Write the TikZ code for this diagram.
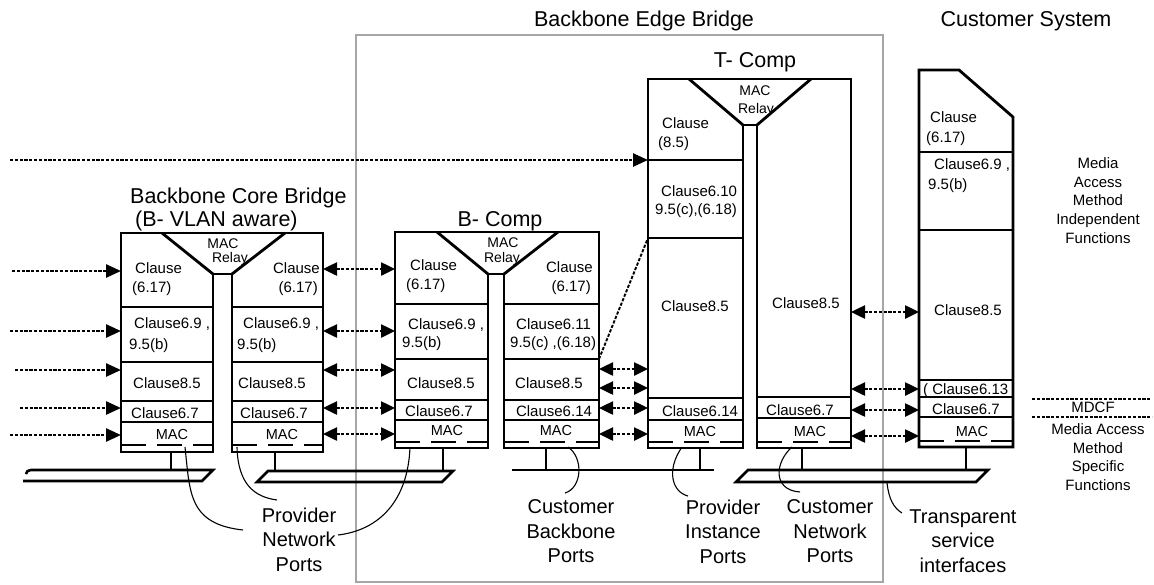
\documentclass[tikz,border=0pt]{standalone}
\usepackage{fontspec}
\setmainfont{Liberation Sans}
\usetikzlibrary{arrows.meta}
\begin{document}
\begin{tikzpicture}[x=1pt,y=-1pt,
  box/.style={line width=2.8pt, line join=miter},
  dashline/.style={line width=2.8pt, dash pattern=on 25pt off 11pt},
  dots/.style={line width=2.5pt, dash pattern=on 3.2pt off 1.6pt},
  arr/.style={dots, -{Triangle[length=15pt,width=13pt]}},
  darr/.style={dots, {Triangle[length=14pt,width=13pt]}-{Triangle[length=14pt,width=13pt]}},
  cl/.style={inner sep=0pt, font=\fontsize{15}{16}\selectfont},
  mac/.style={inner sep=0pt, font=\fontsize{14.5}{16}\selectfont},
  rel/.style={inner sep=0pt, font=\fontsize{14}{14}\selectfont},
  ttl/.style={inner sep=0pt, font=\fontsize{21.5}{24}\selectfont},
  lbl/.style={inner sep=0pt, align=center, font=\fontsize{20}{24.5}\selectfont},
  side/.style={inner sep=0pt, align=center, font=\fontsize{15}{18.7}\selectfont},
  callout/.style={line width=1.1pt},
  bus/.style={line width=2.6pt, line join=miter},
  greybox/.style={draw=black!35, line width=1.4pt}
]
\useasboundingbox (0,0) rectangle (1154,584);

% Backbone Edge Bridge frame
\draw[greybox] (356,35) rectangle (883,582);

% titles
\node[ttl, anchor=base] (beb) at (644,26) {Backbone Edge Bridge};
\node[ttl, anchor=base] (cs) at (1026,26) {Customer System};
\node[ttl, anchor=base] (tc) at (755,67) {T- Comp};
\node[ttl, anchor=base] (bc) at (500,226) {B- Comp};
\node[ttl, anchor=base west] (bcb) at (130,203) {Backbone Core Bridge};
\node[ttl, anchor=base west] (bva) at (135,226) {(B- VLAN aware)};

% ---------- Backbone core bridge ----------
\draw[box] (213,452) -- (121,452) -- (121,233) -- (323,233) -- (323,452) -- (232,452) -- (232,274) -- (213,274) -- cycle;
\draw[box] (162,233) -- (213,274);
\draw[box] (285,233) -- (232,274);
\foreach \yy in {307,362,401,422} {\draw[box] (121,\yy) -- (213,\yy); \draw[box] (232,\yy) -- (323,\yy);}
\draw[dashline] (121,445) -- (213,445);
\draw[dashline] (232,445) -- (323,445);
\node[rel, anchor=base] (cr1) at (223,248) {MAC};
\node[rel, anchor=base] (cr2) at (230,262) {Relay};
\node[cl, anchor=base west] (ca1) at (135,273.5) {Clause};
\node[cl, anchor=base west] (ca2) at (132,292.5) {(6.17)};
\node[cl, anchor=base west] (ca3) at (134,328.5) {Clause6.9 ,};
\node[cl, anchor=base west] (ca4) at (129,349.5) {9.5(b)};
\node[cl, anchor=base] (ca5) at (167,388.5) {Clause8.5};
\node[cl, anchor=base] (ca6) at (165,418.5) {Clause6.7};
\node[mac, anchor=base] (ca7) at (172,439) {MAC};
\node[cl, anchor=base east] (cb1) at (320,273.5) {Clause};
\node[cl, anchor=base east] (cb2) at (318,292.5) {(6.17)};
\node[cl, anchor=base west] (cb3) at (243,328.5) {Clause6.9 ,};
\node[cl, anchor=base west] (cb4) at (237,349.5) {9.5(b)};
\node[cl, anchor=base] (cb5) at (272,388.5) {Clause8.5};
\node[cl, anchor=base] (cb6) at (274,418.5) {Clause6.7};
\node[mac, anchor=base] (cb7) at (282,439) {MAC};

% ---------- B-Comp ----------
\draw[box] (488,448) -- (395,448) -- (395,232) -- (599,232) -- (599,448) -- (504,448) -- (504,274) -- (488,274) -- cycle;
\draw[box] (437,232) -- (488,274);
\draw[box] (558,232) -- (504,274);
\foreach \yy in {304,359,400,420} {\draw[box] (395,\yy) -- (488,\yy); \draw[box] (504,\yy) -- (599,\yy);}
\draw[dashline] (395,442) -- (488,442);
\draw[dashline] (504,442) -- (599,442);
\node[rel, anchor=base] (br1) at (503,247) {MAC};
\node[rel, anchor=base] (br2) at (502,262) {Relay};
\node[cl, anchor=base west] (ba1) at (410,270.5) {Clause};
\node[cl, anchor=base west] (ba2) at (406,289.5) {(6.17)};
\node[cl, anchor=base west] (ba3) at (408,329.5) {Clause6.9 ,};
\node[cl, anchor=base west] (ba4) at (402,347.5) {9.5(b)};
\node[cl, anchor=base] (ba5) at (441,388.5) {Clause8.5};
\node[cl, anchor=base] (ba6) at (439,416.5) {Clause6.7};
\node[mac, anchor=base] (ba7) at (447,435) {MAC};
\node[cl, anchor=base east] (bb1) at (593,272.5) {Clause};
\node[cl, anchor=base east] (bb2) at (591,291.5) {(6.17)};
\node[cl, anchor=base west] (bb3) at (516,329.5) {Clause6.11};
\node[cl, anchor=base west] (bb4) at (510,347.5) {9.5(c) ,(6.18)};
\node[cl, anchor=base] (bb5) at (549,388.5) {Clause8.5};
\node[cl, anchor=base] (bb6) at (554,416.5) {Clause6.14};
\node[mac, anchor=base] (bb7) at (556,435) {MAC};

% ---------- T-Comp ----------
\draw[box] (743,448) -- (648,448) -- (648,79) -- (851,79) -- (851,448) -- (757,448) -- (757,125) -- (743,125) -- cycle;
\draw[box] (689,79) -- (743,125);
\draw[box] (811,79) -- (757,125);
\foreach \yy in {160,238,398,420} {\draw[box] (648,\yy) -- (743,\yy);}
\foreach \yy in {397,418} {\draw[box] (757,\yy) -- (851,\yy);}
\draw[dashline] (648,442) -- (743,442);
\draw[dashline] (757,442) -- (851,442);
\node[rel, anchor=base] (tr1) at (755,95) {MAC};
\node[rel, anchor=base] (tr2) at (756,113) {Relay};
\node[cl, anchor=base west] (ta1) at (662,128.5) {Clause};
\node[cl, anchor=base west] (ta2) at (658,147.5) {(8.5)};
\node[cl, anchor=base west] (ta3) at (661,196.5) {Clause6.10 ,};
\node[cl, anchor=base west] (ta4) at (655,214.5) {9.5(c),(6.18)};
\node[cl, anchor=base] (ta5) at (695,311.5) {Clause8.5};
\node[cl, anchor=base] (ta6) at (700,416.5) {Clause6.14};
\node[mac, anchor=base] (ta7) at (700,436) {MAC};
\node[cl, anchor=base] (tb5) at (806,308.5) {Clause8.5};
\node[cl, anchor=base] (tb6) at (800,415.5) {Clause6.7};
\node[mac, anchor=base] (tb7) at (810,436) {MAC};

% ---------- Customer system ----------
\draw[box] (919,447) -- (919,70) -- (959,70) -- (1013,117) -- (1013,447) -- cycle;
\foreach \yy in {152,230,380,397,417} {\draw[box] (919,\yy) -- (1013,\yy);}
\draw[dashline] (919,441) -- (1013,441);
\node[cl, anchor=base west] (ua1) at (930,122.5) {Clause};
\node[cl, anchor=base west] (ua2) at (926,142.5) {(6.17)};
\node[cl, anchor=base west] (ua3) at (934,169.5) {Clause6.9 ,};
\node[cl, anchor=base west] (ua4) at (928,189.5) {9.5(b)};
\node[cl, anchor=base] (ua5) at (968,315.5) {Clause8.5};
\node[cl, anchor=base west] (ua6) at (923,394.5) {( Clause6.13};
\node[cl, anchor=base] (ua7) at (966,414.5) {Clause6.7};
\node[mac, anchor=base] (ua8) at (972,436) {MAC};

% side labels
\node[side, anchor=north] (mi) at (1098,157.5) {Media\\Access\\Method\\Independent\\Functions};
\draw[dots, line width=2.2pt] (1032,399) -- (1150,399);
\draw[dots, line width=2.2pt] (1032,417) -- (1152,417);
\node[cl, anchor=base] (mdcf) at (1093,412.5) {MDCF};
\node[side, anchor=north] (ms) at (1098,423.5) {Media Access\\Method\\Specific\\Functions};

% ---------- arrows ----------
\draw[arr] (10,160) -- (648,160);
\draw[arr] (12,271) -- (121,271);
\draw[arr] (10,331) -- (121,331);
\draw[arr] (15,370) -- (121,370);
\draw[arr] (20,408) -- (121,408);
\draw[arr] (10,435) -- (121,435);
\foreach \yy in {269,331,370,408,434} {\draw[darr] (323,\yy) -- (395,\yy);}
\foreach \yy in {369,388,408,434} {\draw[darr] (599,\yy) -- (648,\yy);}
\foreach \yy in {312,389,410,436} {\draw[darr] (851,\yy) -- (919,\yy);}
\draw[dots, line width=1.9pt] (599,359) -- (648,238);

% ---------- buses ----------
\draw[bus] (26,474) .. controls (27,471) .. (31,470) -- (213,470) -- (202,481) -- (23,481);
\draw[bus] (268,471) -- (453,471) -- (442,482) -- (257,482) -- cycle;
\draw[bus] (512,470) -- (714,470);
\draw[bus] (748,470) -- (988,470) -- (976,482) -- (736,482) -- cycle;
\draw[bus] (171,452) -- (171,470);
\draw[bus] (275,452) -- (275,471);
\draw[bus] (443,448) -- (443,471);
\draw[bus] (546,448) -- (546,470);
\draw[bus] (700,448) -- (700,470);
\draw[bus] (802,448) -- (802,470);
\draw[bus] (966,447) -- (966,470);

% ---------- bottom labels ----------
\node[lbl, anchor=north] (pnp) at (299,507.5) {Provider\\Network\\Ports};
\node[lbl, anchor=north] (cbp) at (571,499.5) {Customer\\Backbone\\Ports};
\node[lbl, anchor=north] (pip) at (723,499.5) {Provider\\Instance\\Ports};
\node[lbl, anchor=north] (cnp) at (830,499.5) {Customer\\Network\\Ports};
\node[lbl, anchor=north] (tsi) at (963,509.5) {Transparent\\service\\interfaces};

% callouts
\draw[callout] (185,447) .. controls (190,492) and (188,524) .. (243,530);
\draw[callout] (237,447) .. controls (238,485) and (255,497) .. (277,500);
\draw[callout] (410,447) .. controls (408,500) and (380,530) .. (338,535);
\draw[callout] (568,447) .. controls (584,458) and (582,488) .. (565,493);
\draw[callout] (682,447) .. controls (666,470) and (672,492) .. (688,496);
\draw[callout] (792,447) .. controls (775,462) and (772,490) .. (800,492);
\draw[callout] (887,483) .. controls (889,500) and (894,508) .. (902,513);
\end{tikzpicture}
\end{document}
